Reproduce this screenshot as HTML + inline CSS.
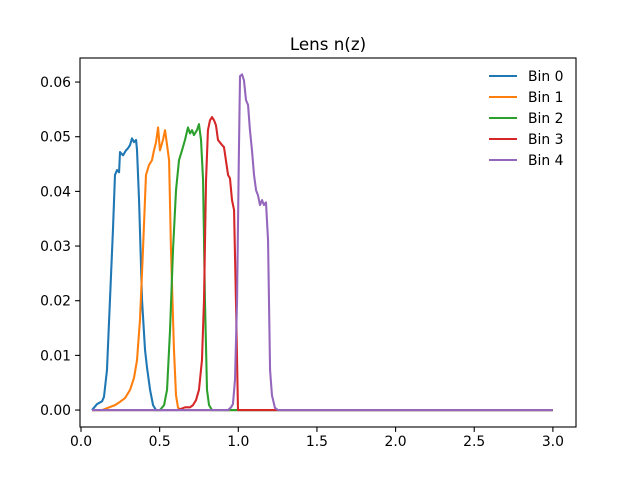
<!DOCTYPE html>
<html><head><meta charset="utf-8"><style>
body{margin:0;background:#fff;font-family:"Liberation Sans","DejaVu Sans",sans-serif}
svg text{font-family:"DejaVu Sans","Liberation Sans",sans-serif}
</style></head><body>
<svg id="chart" width="640" height="480" viewBox="0 0 640 480" xmlns="http://www.w3.org/2000/svg">
<rect width="640" height="480" fill="#fff"/>
<text x="328" y="50" font-size="16.7" text-anchor="middle">Lens n(z)</text>
<g id="series"></g>
<rect x="80" y="58" width="496" height="369" fill="none" stroke="#000" stroke-width="1.1"/>
<g id="ticks"></g>
<g id="legend"></g>
</svg>
<script>
const binNames=["Bin 0","Bin 1","Bin 2","Bin 3","Bin 4"];
const colors=["#1f77b4","#ff7f0e","#2ca02c","#d62728","#9467bd"];
const z0=[0.070,0.102,0.134,0.146,0.165,0.184,0.203,0.216,0.229,0.242,0.248,0.267,0.286,0.299,0.312,0.324,0.337,0.350,0.356,0.369,0.388,0.407,0.420,0.439,0.458,0.477,3.0];
const n0=[0,0.0011,0.0016,0.0024,0.0073,0.0201,0.0329,0.0430,0.0439,0.0435,0.0472,0.0466,0.0475,0.0479,0.0485,0.0497,0.0490,0.0494,0.0476,0.0384,0.0201,0.0110,0.0077,0.0037,0.0009,0,0];
const z1=[0.070,0.134,0.216,0.248,0.280,0.312,0.337,0.356,0.375,0.394,0.413,0.432,0.451,0.464,0.477,0.490,0.502,0.521,0.534,0.547,0.560,0.572,0.591,0.604,0.617,0.642,3.0];
const n1=[0,0,0.0009,0.0015,0.0022,0.0037,0.0059,0.0091,0.0165,0.0293,0.0430,0.0448,0.0457,0.0475,0.0490,0.0517,0.0475,0.0494,0.0512,0.0485,0.0457,0.0293,0.0110,0.0027,0.0004,0,0];
const z2=[0.070,0.502,0.528,0.547,0.566,0.585,0.604,0.623,0.642,0.661,0.680,0.693,0.706,0.718,0.737,0.750,0.763,0.776,0.788,0.801,0.814,0.833,3.0];
const n2=[0,0,0.0009,0.0037,0.0146,0.0293,0.0402,0.0457,0.0475,0.0494,0.0517,0.0506,0.0512,0.0503,0.0512,0.0523,0.0494,0.0421,0.0201,0.0037,0.0009,0,0];
const z3=[0.070,0.617,0.661,0.693,0.712,0.731,0.750,0.769,0.782,0.795,0.807,0.820,0.833,0.846,0.858,0.871,0.896,0.909,0.935,0.947,0.960,0.973,0.985,0.998,3.0];
const n3=[0,0,0.0005,0.0005,0.0009,0.0018,0.0037,0.0091,0.0201,0.0421,0.0512,0.0530,0.0536,0.0530,0.0521,0.0494,0.0485,0.0481,0.0430,0.0424,0.0384,0.0366,0.0201,0,0];
const z4=[0.070,0.935,0.954,0.966,0.979,0.992,1.004,1.011,1.024,1.036,1.049,1.062,1.074,1.087,1.100,1.113,1.125,1.138,1.151,1.163,1.176,1.189,1.202,1.214,1.233,1.252,3.0];
const n4=[0,0,0.0005,0.0011,0.0055,0.0201,0.0475,0.0611,0.0614,0.0603,0.0567,0.0558,0.0512,0.0475,0.0430,0.0402,0.0393,0.0375,0.0384,0.0375,0.0380,0.0311,0.0073,0.0027,0.0004,0,0];
const xTicks=[0,0.5,1.0,1.5,2.0,2.5,3.0];
const xTickLabels=["0.0","0.5","1.0","1.5","2.0","2.5","3.0"];
const yTicks=[0,0.01,0.02,0.03,0.04,0.05,0.06];
const yTickLabels=["0.00","0.01","0.02","0.03","0.04","0.05","0.06"];

const NS="http://www.w3.org/2000/svg";
const X0=80,X1=576,Y0=427,Y1=58;
const xmin=-0.0064,xmax=3.147,ymin=-0.0031,ymax=0.0644;
function xs(v){return X0+(v-xmin)/(xmax-xmin)*(X1-X0);}
function ys(v){return Y0-(v-ymin)/(ymax-ymin)*(Y0-Y1);}
function mk(t,a,p){const e=document.createElementNS(NS,t);for(const k in a)e.setAttribute(k,a[k]);p.appendChild(e);return e;}
const zs=[z0,z1,z2,z3,z4],ns=[n0,n1,n2,n3,n4];
const sg=document.getElementById('series');
for(let i=0;i<5;i++){
  const d=zs[i].map((z,j)=>(j?'L':'M')+xs(z).toFixed(2)+','+ys(ns[i][j]).toFixed(2)).join('');
  const p=mk('path',{d:d,fill:'none',stroke:colors[i],'stroke-width':2.08,'stroke-linejoin':'round'},sg);
  
  
}
const tg=document.getElementById('ticks');
xTicks.forEach((v,i)=>{
  const x=xs(v);
  const l=mk('line',{x1:x,x2:x,y1:Y0,y2:Y0+4.9,stroke:'#000','stroke-width':1.1},tg);
  
  
  const t=mk('text',{x:x,y:Y0+19,'font-size':13.9,'text-anchor':'middle'},tg);
  t.textContent=xTickLabels[i];
  
  
});
yTicks.forEach((v,i)=>{
  const y=ys(v);
  const l=mk('line',{x1:X0-4.9,x2:X0,y1:y,y2:y,stroke:'#000','stroke-width':1.1},tg);
  
  
  const t=mk('text',{x:X0-9,y:y+5,'font-size':13.9,'text-anchor':'end'},tg);
  t.textContent=yTickLabels[i];
  
  
});
const lg=document.getElementById('legend');
binNames.forEach((n,i)=>{
  const y=76+i*21;
  const g=mk('g',{},lg);
  
  
  mk('line',{x1:489,x2:517,y1:y,y2:y,stroke:colors[i],'stroke-width':2.08},g);
  const t=mk('text',{x:528,y:y+5,'font-size':13.9},g);
  t.textContent=n;
});
</script>
</body></html>
